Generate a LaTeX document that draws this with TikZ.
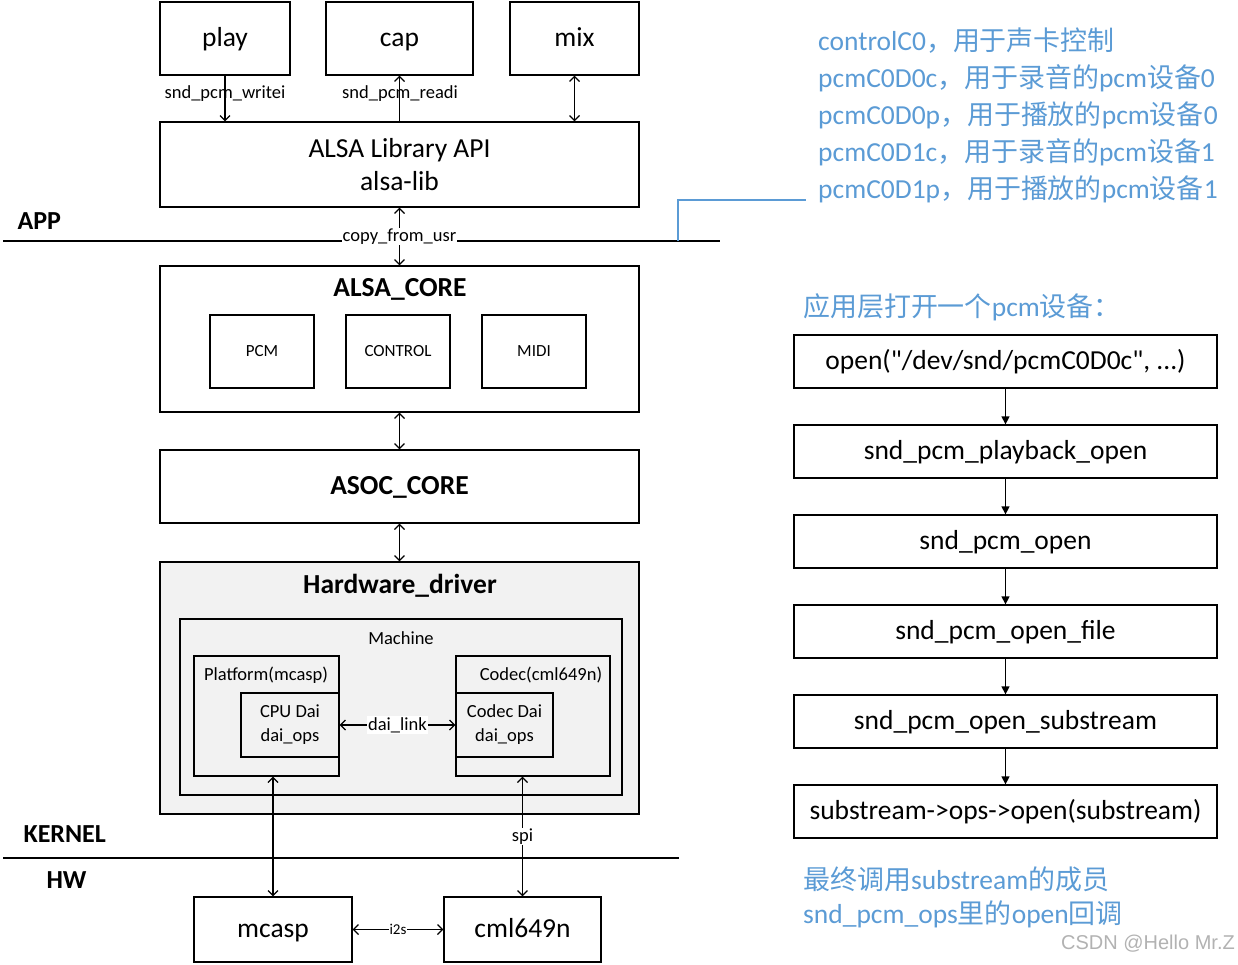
\documentclass[tikz,border=0pt]{standalone}
\usepackage{fontspec}
\setmainfont{Carlito}
\newfontfamily\cjk{Noto Sans CJK SC}[Scale=0.98]
\newfontfamily\wmfont{Liberation Sans}
\usetikzlibrary{arrows.meta}
\definecolor{hint}{HTML}{5B9BD5}
\definecolor{hwfill}{HTML}{F2F2F2}
\newcommand{\zh}[1]{{\cjk #1}}
\tikzset{
  box/.style={draw, line width=1.3pt, inner sep=0pt, align=center},
  one/.style={text height=19pt, text depth=4pt},
  ones/.style={text height=12pt, text depth=2.5pt},
  arr/.style={line width=1.2pt, -{Straight Barb[length=5pt,width=10pt]}},
  barr/.style={line width=1.2pt, {Straight Barb[length=5pt,width=10pt]}-{Straight Barb[length=5pt,width=10pt]}},
  lbl/.style={font=\fontsize{18.5}{20}\selectfont, inner sep=1pt},
  mid/.style={font=\fontsize{18.5}{24}\selectfont},
  big/.style={font=\fontsize{27.5}{33}\selectfont},
  title/.style={font=\fontsize{27.5}{32}\selectfont\bfseries},
  layer/.style={font=\fontsize{26}{30}\selectfont\bfseries},
  blue/.style={text=hint, font=\fontsize{27.5}{32}\selectfont, anchor=west, inner sep=0pt},
}
\begin{document}
\begin{tikzpicture}[x=1pt,y=-1pt]
\useasboundingbox (0,0) rectangle (1238,964);
% top row
\node[box,big,one,minimum width=130pt,minimum height=73pt] (play) at (225,38.5) {play};
\node[box,big,one,minimum width=147pt,minimum height=73pt] (cap) at (399.5,38.5) {cap};
\node[box,big,one,minimum width=129pt,minimum height=73pt] (mix) at (574.5,38.5) {mix};
\node[box,big,minimum width=479pt,minimum height=85pt] (alsalib) at (399.5,164.5) {ALSA Library API\\alsa-lib};
\draw[arr] (play.south) -- (play.south |- alsalib.north);
\draw[arr] (cap.south |- alsalib.north) -- (cap.south);
\draw[barr] (mix.south) -- (mix.south |- alsalib.north);
\node[lbl] (wlbl) at (225,94) {snd\_pcm\_writei};
\node[lbl] (rlbl) at (400,94) {snd\_pcm\_readi};
% APP line
\coordinate (appL) at (3,241);
\coordinate (appR) at (720,241);
\draw[line width=2.6pt] (appL) -- (appR);
\node[layer,anchor=west] (app) at (14,221) {APP};
% ALSA core
\node[box,minimum width=479pt,minimum height=146pt] (alsacore) at (399.5,339) {};
\node[title] (alsacoret) at (400,289) {ALSA\_CORE};
\node[box,font=\fontsize{17}{20}\selectfont,ones,minimum width=104pt,minimum height=73pt] (pcm) at (262,351.5) {PCM};
\node[box,font=\fontsize{17}{20}\selectfont,ones,minimum width=104pt,minimum height=73pt] (control) at (398,351.5) {CONTROL};
\node[box,font=\fontsize{17}{20}\selectfont,ones,minimum width=104pt,minimum height=73pt] (midi) at (534,351.5) {MIDI};
\draw[barr] (alsalib.south) -- (alsacore.north) node[lbl,fill=white,pos=0.5] (cfu) {copy\_from\_usr};
% ASOC
\node[box,title,one,minimum width=479pt,minimum height=73pt] (asoc) at (399.5,486.5) {ASOC\_CORE};
\draw[barr] (alsacore.south) -- (asoc.north);
% Hardware driver
\node[box,fill=hwfill,minimum width=479pt,minimum height=252pt] (hw) at (399.5,688) {};
\draw[barr] (asoc.south) -- (hw.north);
\node[title] (hwt) at (400,586) {Hardware\_driver};
\node[box,minimum width=442pt,minimum height=176pt] (machine) at (401,707) {};
\node[lbl,mid] (machinet) at (401,638) {Machine};
\node[box,minimum width=145pt,minimum height=120pt] (platform) at (266.5,716) {};
\node[lbl,mid] (platformt) at (266,675) {Platform(mcasp)};
\node[box,mid,minimum width=98pt,minimum height=64pt] (cpudai) at (290,725) {CPU Dai\\dai\_ops};
\node[box,minimum width=154pt,minimum height=120pt] (codec) at (533,716) {};
\node[lbl,mid] (codect) at (541,675) {Codec(cml649n)};
\node[box,mid,minimum width=97pt,minimum height=64pt] (codecdai) at (504.5,725) {Codec Dai\\dai\_ops};
\draw[barr] (cpudai.east) -- (codecdai.west) node[lbl,fill=white,pos=0.5] (dailink) {dai\_link};
% KERNEL line
\coordinate (kL) at (3,858);
\coordinate (kR) at (679,858);
\draw[line width=2.6pt] (kL) -- (kR);
\node[layer,anchor=west] (kernel) at (20,834) {KERNEL};
\node[layer,anchor=west] (hwl) at (43,880) {HW};
% HW
\node[box,big,one,minimum width=158pt,minimum height=65pt] (mcasp) at (273,929.5) {mcasp};
\node[box,big,one,minimum width=157pt,minimum height=65pt] (cml) at (522.5,929.5) {cml649n};
\draw[barr] (mcasp.north |- platform.south) -- (mcasp.north);
\draw[barr] (cml.north |- codec.south) -- (cml.north) node[lbl,fill=white,pos=0.5] (spi) {spi};
\draw[barr] (mcasp.east) -- (cml.west) node[lbl,font=\fontsize{15}{16}\selectfont,fill=white,pos=0.5] (i2s) {i2s};
% right blue notes
\node[blue] (n1) at (818,41) {controlC0\zh{，用于声卡控制}};
\node[blue] (n2) at (818,78) {pcmC0D0c\zh{，用于录音的}pcm\zh{设备}0};
\node[blue] (n3) at (818,115) {pcmC0D0p\zh{，用于播放的}pcm\zh{设备}0};
\node[blue] (n4) at (818,152) {pcmC0D1c\zh{，用于录音的}pcm\zh{设备}1};
\node[blue] (n5) at (818,189) {pcmC0D1p\zh{，用于播放的}pcm\zh{设备}1};
\coordinate (bstart) at (678,241);
\coordinate (bend) at (806,200);
\draw[hint,line width=1.3pt] (bstart) |- (bend);
% right flow
\node[blue] (flowt) at (803,307) {\zh{应用层打开一个}pcm\zh{设备：}};
\node[box,big,one,minimum width=423pt,minimum height=53pt] (f1) at (1005.5,361.5) {open(\textquotedbl/dev/snd/pcmC0D0c\textquotedbl, ...)};
\node[box,big,one,minimum width=423pt,minimum height=53pt] (f2) at (1005.5,451.5) {snd\_pcm\_playback\_open};
\node[box,big,one,minimum width=423pt,minimum height=53pt] (f3) at (1005.5,541.5) {snd\_pcm\_open};
\node[box,big,one,minimum width=423pt,minimum height=53pt] (f4) at (1005.5,631.5) {snd\_pcm\_open\_file};
\node[box,big,one,minimum width=423pt,minimum height=53pt] (f5) at (1005.5,721.5) {snd\_pcm\_open\_substream};
\node[box,big,one,minimum width=423pt,minimum height=53pt] (f6) at (1005.5,811.5) {substream->ops->open(substream)};
\foreach \a/\b in {f1/f2,f2/f3,f3/f4,f4/f5,f5/f6}
  \draw[line width=1.3pt,-{Triangle[length=8pt,width=8pt]}] (\a.south) -- (\b.north);
\node[blue] (e1) at (803,879) {\zh{最终调用}substream\zh{的成员}};
\node[blue] (e2) at (803,914) {snd\_pcm\_ops\zh{里的}open\zh{回调}};
\node[anchor=east,text=black!30,font=\wmfont\fontsize{20}{24}\selectfont,inner sep=0pt] (wm) at (1235,944) {CSDN @Hello Mr.Z};
\end{tikzpicture}
\end{document}
